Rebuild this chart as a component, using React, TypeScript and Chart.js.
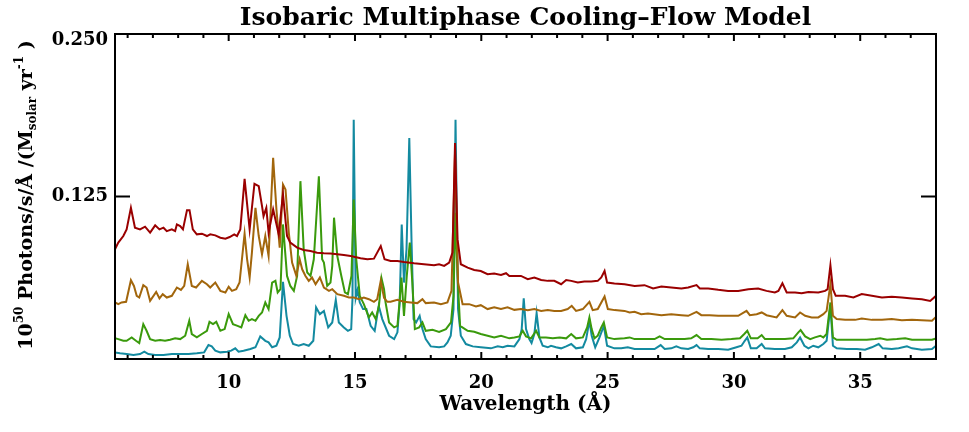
import React, { useEffect, useRef } from 'react';
import { Chart, registerables } from 'chart.js';

Chart.register(...registerables);

const TITLE = 'Isobaric Multiphase Cooling\u2013Flow Model';
const X_TITLE = 'Wavelength (\u00C5)';

const xMajorTicks = [10, 15, 20, 25, 30, 35];
const xMinorTicks = [6, 7, 8, 9, 11, 12, 13, 14, 16, 17, 18, 19, 21, 22, 23, 24, 26, 27, 28, 29, 31, 32, 33, 34, 36, 37];
const yMajorTicks = [0.125, 0.25];

const redWave = [5.5,5.63,5.83,5.96,6.13,6.29,6.49,6.69,6.89,7.09,7.26,7.42,7.55,7.75,7.88,7.95,8.08,8.19,8.35,8.45,8.58,8.74,8.94,9.14,9.27,9.47,9.67,9.87,10.04,10.22,10.33,10.46,10.63,10.83,11.02,11.19,11.32,11.38,11.49,11.58,11.76,11.98,12.15,12.31,12.44,12.71,12.97,13.24,13.5,13.77,14.03,14.3,14.56,14.83,15.22,15.49,15.75,16.02,16.17,16.41,16.68,16.94,17.34,17.73,18.13,18.33,18.53,18.73,18.86,18.96,19.06,19.19,19.46,19.72,19.98,20.25,20.51,20.78,20.98,21.11,21.57,21.84,22.1,22.37,22.63,22.89,23.16,23.36,23.56,23.82,24.08,24.35,24.61,24.75,24.88,24.98,25.27,25.67,26.07,26.46,26.8,27.13,27.52,27.92,28.19,28.52,28.65,28.98,29.38,29.77,30.17,30.57,30.96,31.29,31.62,31.76,31.92,32.09,32.42,32.68,32.95,33.34,33.61,33.71,33.82,33.92,34.03,34.4,34.73,35.06,35.46,35.86,36.25,36.65,37.05,37.44,37.77,38.0];
const redFlux = [0.0844,0.0895,0.0946,0.0997,0.1163,0.1010,0.0997,0.1018,0.0972,0.1028,0.0997,0.1010,0.0984,0.0997,0.0984,0.1035,0.1022,0.0997,0.1145,0.1145,0.0997,0.0959,0.0964,0.0946,0.0959,0.0951,0.0933,0.0926,0.0938,0.0959,0.0946,0.0997,0.1386,0.0997,0.1348,0.1329,0.1176,0.1099,0.1163,0.0972,0.1151,0.0959,0.1266,0.0946,0.0895,0.0857,0.0838,0.0831,0.0818,0.0813,0.0811,0.0805,0.0800,0.0792,0.0775,0.0767,0.0772,0.0869,0.0767,0.0754,0.0754,0.0746,0.0736,0.0729,0.0721,0.0729,0.0716,0.0742,0.0818,0.1662,0.0920,0.0729,0.0703,0.0685,0.0677,0.0652,0.0657,0.0647,0.0660,0.0639,0.0639,0.0614,0.0627,0.0608,0.0601,0.0601,0.0575,0.0608,0.0601,0.0588,0.0596,0.0596,0.0601,0.0627,0.0677,0.0588,0.0581,0.0575,0.0562,0.0568,0.0542,0.0558,0.0550,0.0542,0.0550,0.0568,0.0542,0.0542,0.0532,0.0524,0.0524,0.0537,0.0542,0.0524,0.0512,0.0524,0.0583,0.0512,0.0512,0.0506,0.0516,0.0512,0.0524,0.0537,0.0721,0.0537,0.0486,0.0486,0.0473,0.0499,0.0486,0.0473,0.0478,0.0473,0.0466,0.0460,0.0447,0.0486];

const brownWave = [5.5,5.63,5.76,5.94,6.13,6.25,6.36,6.46,6.62,6.75,6.89,7.13,7.26,7.39,7.55,7.75,7.95,8.11,8.24,8.38,8.54,8.71,8.94,9.14,9.27,9.47,9.67,9.87,10.0,10.13,10.3,10.43,10.63,10.73,10.83,10.92,11.06,11.19,11.32,11.45,11.58,11.76,11.89,12.02,12.15,12.25,12.38,12.51,12.68,12.81,12.91,13.04,13.17,13.3,13.44,13.61,13.77,13.97,14.1,14.3,14.56,14.76,14.96,15.16,15.35,15.55,15.75,15.88,16.02,16.15,16.28,16.41,16.68,16.94,17.21,17.47,17.67,17.8,18.13,18.4,18.66,18.82,18.96,19.08,19.26,19.52,19.79,19.98,20.25,20.51,20.78,21.04,21.31,21.57,21.84,22.1,22.37,22.63,22.89,23.16,23.42,23.58,23.75,24.02,24.28,24.41,24.61,24.88,25.01,25.28,25.67,25.87,26.07,26.33,26.6,27.13,27.52,27.92,28.19,28.52,28.71,29.04,29.38,29.77,30.17,30.5,30.63,30.9,31.1,31.29,31.69,31.92,32.09,32.42,32.62,32.82,33.08,33.34,33.54,33.67,33.82,33.92,34.07,34.4,34.8,35.06,35.46,35.86,36.25,36.65,37.05,37.44,37.84,38.0];
const brownFlux = [0.0435,0.0422,0.0435,0.0440,0.0606,0.0562,0.0486,0.0473,0.0568,0.0550,0.0447,0.0516,0.0466,0.0499,0.0473,0.0486,0.0550,0.0532,0.0562,0.0729,0.0562,0.0550,0.0601,0.0575,0.0550,0.0588,0.0524,0.0512,0.0555,0.0524,0.0537,0.0588,0.0964,0.0767,0.0627,0.0818,0.1163,0.0946,0.0805,0.0946,0.0792,0.1547,0.1151,0.0857,0.1342,0.1304,0.0972,0.0742,0.0639,0.0767,0.0690,0.0639,0.0601,0.0627,0.0575,0.0627,0.0550,0.0524,0.0537,0.0499,0.0486,0.0473,0.0473,0.0460,0.0473,0.0460,0.0440,0.0460,0.0601,0.0470,0.0440,0.0440,0.0455,0.0440,0.0435,0.0430,0.0460,0.0430,0.0435,0.0422,0.0435,0.0524,0.1585,0.0588,0.0422,0.0422,0.0404,0.0414,0.0384,0.0397,0.0384,0.0397,0.0378,0.0384,0.0376,0.0384,0.0370,0.0376,0.0370,0.0370,0.0384,0.0409,0.0370,0.0384,0.0440,0.0376,0.0384,0.0481,0.0384,0.0376,0.0370,0.0358,0.0363,0.0345,0.0350,0.0337,0.0345,0.0337,0.0332,0.0363,0.0337,0.0337,0.0332,0.0332,0.0332,0.0370,0.0337,0.0345,0.0358,0.0337,0.0320,0.0376,0.0332,0.0320,0.0358,0.0332,0.0320,0.0320,0.0345,0.0370,0.0575,0.0332,0.0307,0.0301,0.0301,0.0312,0.0301,0.0301,0.0307,0.0299,0.0301,0.0299,0.0294,0.0324];

const greenWave = [5.5,5.63,5.83,5.96,6.16,6.33,6.46,6.62,6.75,6.89,7.09,7.29,7.48,7.68,7.88,8.08,8.28,8.44,8.54,8.74,8.94,9.14,9.24,9.38,9.51,9.67,9.84,10.0,10.17,10.35,10.5,10.66,10.79,10.92,11.06,11.19,11.32,11.45,11.58,11.72,11.85,11.94,12.05,12.15,12.31,12.44,12.58,12.71,12.84,12.97,13.11,13.24,13.37,13.57,13.7,13.77,13.9,14.03,14.1,14.17,14.3,14.46,14.6,14.72,14.86,14.95,15.05,15.19,15.35,15.55,15.68,15.82,15.95,16.05,16.15,16.21,16.35,16.55,16.68,16.75,16.84,16.94,17.05,17.17,17.27,17.37,17.54,17.67,17.8,18.07,18.33,18.6,18.8,18.9,18.98,19.06,19.16,19.46,19.72,19.98,20.25,20.51,20.78,21.11,21.31,21.51,21.64,21.77,21.97,22.17,22.3,22.56,22.83,23.1,23.36,23.56,23.75,24.02,24.19,24.28,24.37,24.48,24.61,24.75,24.85,24.98,25.27,25.67,25.87,26.07,26.46,26.86,27.06,27.26,27.66,28.05,28.31,28.52,28.71,29.11,29.51,29.9,30.24,30.41,30.53,30.67,30.94,31.1,31.23,31.62,32.02,32.35,32.55,32.64,32.82,33.02,33.21,33.42,33.54,33.67,33.82,33.92,34.07,34.47,34.87,35.26,35.59,35.79,36.06,36.45,36.78,37.05,37.44,37.84,38.0];
const greenFlux = [0.0159,0.0153,0.0140,0.0140,0.0166,0.0140,0.0123,0.0268,0.0217,0.0153,0.0140,0.0146,0.0140,0.0148,0.0159,0.0153,0.0179,0.0294,0.0192,0.0166,0.0192,0.0217,0.0286,0.0268,0.0286,0.0217,0.0230,0.0345,0.0268,0.0255,0.0243,0.0337,0.0294,0.0307,0.0294,0.0332,0.0358,0.0435,0.0384,0.0588,0.0601,0.0512,0.0537,0.1035,0.0639,0.0562,0.0524,0.0639,0.1368,0.0844,0.0665,0.0639,0.0767,0.1406,0.0767,0.0742,0.0562,0.0588,0.0716,0.1087,0.0792,0.0639,0.0512,0.0499,0.0639,0.1227,0.0767,0.0486,0.0422,0.0320,0.0358,0.0307,0.0409,0.0621,0.0537,0.0435,0.0281,0.0243,0.0255,0.0409,0.0627,0.0332,0.0639,0.0895,0.0588,0.0230,0.0243,0.0281,0.0217,0.0225,0.0209,0.0230,0.0281,0.0486,0.1125,0.0639,0.0255,0.0217,0.0209,0.0192,0.0179,0.0166,0.0179,0.0159,0.0166,0.0174,0.0217,0.0174,0.0159,0.0217,0.0166,0.0166,0.0159,0.0166,0.0159,0.0192,0.0159,0.0166,0.0243,0.0320,0.0230,0.0159,0.0179,0.0243,0.0281,0.0166,0.0153,0.0159,0.0166,0.0153,0.0153,0.0153,0.0174,0.0153,0.0153,0.0153,0.0159,0.0184,0.0153,0.0153,0.0148,0.0153,0.0159,0.0192,0.0217,0.0159,0.0159,0.0184,0.0153,0.0153,0.0153,0.0159,0.0205,0.0222,0.0174,0.0153,0.0166,0.0179,0.0166,0.0192,0.0435,0.0166,0.0148,0.0148,0.0148,0.0148,0.0153,0.0159,0.0148,0.0153,0.0159,0.0148,0.0148,0.0148,0.0159];

const tealWave = [5.5,5.7,5.96,6.23,6.49,6.66,6.82,7.09,7.42,7.75,8.08,8.41,8.74,9.03,9.2,9.33,9.47,9.67,9.94,10.1,10.26,10.39,10.59,10.86,11.06,11.25,11.45,11.58,11.72,11.89,12.02,12.15,12.29,12.42,12.55,12.77,12.97,13.17,13.35,13.46,13.61,13.77,13.94,14.1,14.24,14.36,14.56,14.72,14.85,14.9,14.95,15.03,15.1,15.19,15.32,15.45,15.62,15.78,15.94,16.08,16.35,16.55,16.68,16.77,16.85,16.94,17.04,17.15,17.24,17.32,17.42,17.56,17.67,17.8,18.0,18.33,18.53,18.66,18.79,18.9,18.98,19.08,19.19,19.39,19.66,19.98,20.38,20.65,20.85,21.04,21.31,21.51,21.6,21.68,21.77,21.9,21.99,22.1,22.19,22.3,22.43,22.63,22.76,22.96,23.16,23.36,23.56,23.75,24.02,24.15,24.28,24.37,24.51,24.68,24.85,24.98,25.27,25.54,25.8,26.07,26.46,26.86,27.1,27.26,27.52,27.72,27.92,28.19,28.39,28.52,28.65,28.98,29.38,29.77,30.1,30.3,30.43,30.53,30.67,30.9,31.1,31.23,31.62,32.02,32.29,32.49,32.62,32.79,32.95,33.14,33.34,33.54,33.67,33.82,33.92,34.07,34.47,34.87,35.19,35.46,35.73,35.89,36.25,36.52,36.85,37.05,37.44,37.84,38.0];
const tealFlux = [0.0051,0.0044,0.0038,0.0031,0.0038,0.0056,0.0038,0.0031,0.0031,0.0038,0.0038,0.0038,0.0044,0.0051,0.0107,0.0097,0.0064,0.0051,0.0056,0.0064,0.0082,0.0056,0.0064,0.0077,0.0090,0.0174,0.0140,0.0128,0.0090,0.0102,0.0166,0.0593,0.0332,0.0179,0.0115,0.0102,0.0115,0.0102,0.0140,0.0397,0.0345,0.0370,0.0243,0.0281,0.0455,0.0281,0.0243,0.0217,0.0230,0.0460,0.1841,0.0470,0.0530,0.0435,0.0384,0.0384,0.0255,0.0217,0.0409,0.0307,0.0179,0.0153,0.0205,0.0435,0.1035,0.0588,0.0844,0.1700,0.0895,0.0307,0.0281,0.0332,0.0230,0.0153,0.0097,0.0090,0.0097,0.0128,0.0179,0.0384,0.1841,0.0384,0.0179,0.0115,0.0097,0.0090,0.0082,0.0097,0.0090,0.0102,0.0097,0.0153,0.0230,0.0466,0.0230,0.0153,0.0123,0.0192,0.0353,0.0166,0.0102,0.0090,0.0102,0.0090,0.0082,0.0097,0.0115,0.0082,0.0090,0.0153,0.0294,0.0179,0.0090,0.0166,0.0255,0.0102,0.0082,0.0082,0.0090,0.0077,0.0077,0.0077,0.0107,0.0077,0.0082,0.0097,0.0082,0.0077,0.0090,0.0107,0.0082,0.0077,0.0077,0.0071,0.0090,0.0102,0.0140,0.0166,0.0082,0.0082,0.0115,0.0082,0.0077,0.0077,0.0090,0.0128,0.0166,0.0102,0.0082,0.0102,0.0090,0.0115,0.0140,0.0409,0.0102,0.0082,0.0077,0.0077,0.0071,0.0090,0.0115,0.0082,0.0077,0.0082,0.0097,0.0082,0.0071,0.0077,0.0102];

const FONT = '"DejaVu Serif", "Liberation Serif", serif';

const toPoints = (w: number[], f: number[]) => w.map((x, i) => ({ x, y: f[i] }));

const framePlugin = {
  id: 'idlFrame',
  afterDraw(chart: any) {
    const { ctx, chartArea, scales } = chart;
    const { left, right, top, bottom } = chartArea;
    const xs = scales.x;
    const ys = scales.y;
    ctx.save();
    ctx.strokeStyle = '#000';
    ctx.lineWidth = 2;
    ctx.strokeRect(left, top, right - left, bottom - top);
    ctx.beginPath();
    for (const v of xMajorTicks) {
      const px = xs.getPixelForValue(v);
      ctx.moveTo(px, bottom); ctx.lineTo(px, bottom - 7);
      ctx.moveTo(px, top); ctx.lineTo(px, top + 7);
    }
    for (const v of xMinorTicks) {
      const px = xs.getPixelForValue(v);
      ctx.moveTo(px, bottom); ctx.lineTo(px, bottom - 4);
      ctx.moveTo(px, top); ctx.lineTo(px, top + 4);
    }
    for (const v of yMajorTicks) {
      const py = ys.getPixelForValue(v);
      ctx.moveTo(left, py); ctx.lineTo(left + 15, py);
      ctx.moveTo(right, py); ctx.lineTo(right - 15, py);
    }
    ctx.stroke();

    ctx.fillStyle = '#000';
    ctx.textAlign = 'center';
    ctx.textBaseline = 'alphabetic';
    ctx.font = `bold 25px ${FONT}`;
    ctx.fillText(TITLE, (left + right) / 2, 25);
    ctx.font = `bold 20px ${FONT}`;
    ctx.fillText(X_TITLE, (left + right) / 2, 410);

    // y-axis title with super/subscripts
    const parts = [
      { t: '10', s: 19, dy: 0 },
      { t: '50', s: 12, dy: -9 },
      { t: ' Photons/s/\u00C5 /(M', s: 19, dy: 0 },
      { t: 'solar', s: 12, dy: 4 },
      { t: ' yr', s: 19, dy: 0 },
      { t: '-1', s: 12, dy: -9 },
      { t: ' )', s: 19, dy: 0 },
    ];
    let total = 0;
    const widths = parts.map((p) => {
      ctx.font = `bold ${p.s}px ${FONT}`;
      const w = ctx.measureText(p.t).width;
      total += w;
      return w;
    });
    ctx.translate(32, 195);
    ctx.rotate(-Math.PI / 2);
    ctx.textAlign = 'left';
    let cx = -total / 2;
    parts.forEach((p, i) => {
      ctx.font = `bold ${p.s}px ${FONT}`;
      ctx.fillText(p.t, cx, p.dy);
      cx += widths[i];
    });
    ctx.restore();
  },
};

export default function App() {
  const ref = useRef<HTMLCanvasElement>(null);
  useEffect(() => {
    if (!ref.current) return;
    const chart = new Chart(ref.current, {
      type: 'line',
      data: {
        datasets: [
          { data: toPoints(redWave, redFlux), borderColor: '#9a0000' },
          { data: toPoints(brownWave, brownFlux), borderColor: '#a2660c' },
          { data: toPoints(greenWave, greenFlux), borderColor: '#3a9a0c' },
          { data: toPoints(tealWave, tealFlux), borderColor: '#138aa0' },
        ].map((d) => ({ ...d, borderWidth: 2, pointRadius: 0, tension: 0, fill: false })),
      },
      options: {
        responsive: false,
        animation: false,
        devicePixelRatio: 1,
        layout: { padding: { left: 0, right: 33, top: 34, bottom: 0 } },
        plugins: { legend: { display: false }, tooltip: { enabled: false }, title: { display: false } },
        scales: {
          x: {
            type: 'linear',
            min: 5.5,
            max: 38,
            grid: { display: false, drawTicks: false },
            border: { display: false },
            afterBuildTicks: (s: any) => { s.ticks = xMajorTicks.map((v) => ({ value: v })); },
            afterFit: (s: any) => { s.height = 73; s.paddingLeft = 0; s.paddingRight = 0; },
            ticks: {
              autoSkip: false,
              maxRotation: 0,
              padding: 14,
              color: '#000',
              font: { family: FONT, size: 18, weight: 'bold' },
              callback: (v: any) => String(v),
            },
          },
          y: {
            type: 'linear',
            min: 0,
            max: 0.25,
            grid: { display: false, drawTicks: false },
            border: { display: false },
            afterBuildTicks: (s: any) => { s.ticks = yMajorTicks.map((v) => ({ value: v })); },
            afterFit: (s: any) => { s.width = 115; s.paddingTop = 0; s.paddingBottom = 0; },
            ticks: {
              padding: 7,
              color: '#000',
              font: { family: FONT, size: 18, weight: 'bold', lineHeight: 0.67 },
              callback: (v: any) => (Number(v) >= 0.25 ? ['', Number(v).toFixed(3)] : Number(v).toFixed(3)),
            },
          },
        },
      },
      plugins: [framePlugin],
    } as any);
    return () => chart.destroy();
  }, []);
  return (
    <div style={{ position: 'fixed', left: 0, top: 0, width: 969, height: 432, background: '#fff' }}>
      <canvas ref={ref} width={969} height={432} style={{ display: 'block' }} />
    </div>
  );
}
